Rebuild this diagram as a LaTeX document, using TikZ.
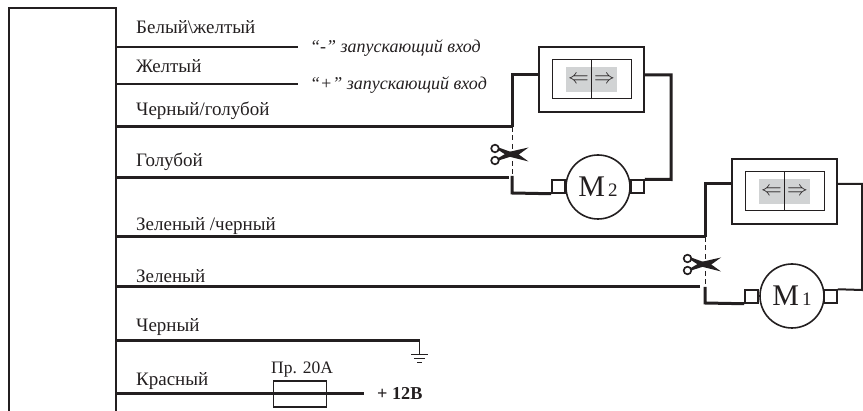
\documentclass[tikz,border=0pt]{standalone}
\usepackage{fontspec}
\setmainfont{Liberation Serif}
\tikzset{
  x=1pt,y=-1pt,
  wire/.style={line width=3pt,color=ink,line join=miter},
  thin wire/.style={line width=2.6pt,color=ink},
  cut/.style={line width=1pt,color=ink,dash pattern=on 5pt off 3.5pt},
  boxline/.style={draw=ink,line width=1.6pt,fill=white,inner sep=0pt,minimum width=#1},
  lab/.style={anchor=base west,inner sep=0pt,font=\fontsize{19}{20}\selectfont,text=ink},
  note/.style={anchor=base west,inner sep=0pt,font=\fontsize{18}{20}\selectfont\itshape,text=ink},
  motor/.style={circle,draw=ink,line width=1.6pt,fill=white,minimum size=64pt,inner sep=0pt,font=\fontsize{30}{30}\selectfont,text=ink},
  pad/.style={rectangle,draw=ink,line width=1.5pt,fill=white,minimum width=13pt,minimum height=13pt,inner sep=0pt},
  arrowglyph/.style={inner sep=0pt,font=\fontsize{20}{20}\selectfont,text=ink},
}
\definecolor{ink}{HTML}{231F20}
\definecolor{panel}{HTML}{D1D3D4}
\newcommand{\switchbox}[3]{% name, centre x, centre y
  \node[rectangle,boxline=105pt,minimum height=65pt] (#1) at (#2,#3) {};
  \node[rectangle,draw=ink,line width=1pt,minimum width=79pt,minimum height=39pt,inner sep=0pt] (#1i) at (#2,#3) {};
  \node[rectangle,fill=panel,minimum width=51pt,minimum height=25pt,inner sep=0pt] (#1g) at (#2,#3) {};
  \draw[ink,line width=1pt] (#1i.north) -- (#1i.south);
  \node[arrowglyph] (#1l) at ($(#1g.center)+(-13,0)$) {$\Leftarrow$};
  \node[arrowglyph] (#1r) at ($(#1g.center)+(13,0)$) {$\Rightarrow$};
}
\newcommand{\scissorsat}[3]{% name, x, y
  \begin{scope}[shift={(#2,#3)}]
    \coordinate (#1) at (0,0);
    \draw[ink,line width=1.7pt] (-13.5,-5.5) circle[radius=3.8pt];
    \draw[ink,line width=1.7pt] (-13.5,6.5) circle[radius=3.8pt];
    \fill[ink] (-11,4.5) -- (0,-2) -- (20,-6.5) -- (8,2.2) -- (2,2.7) -- (-10,6.5) -- cycle;
    \fill[ink] (-11,-4.5) -- (0,2.5) -- (20,7.5) -- (8,-1.2) -- (2,-2.2) -- (-10,-6.5) -- cycle;
  \end{scope}
}
\usetikzlibrary{calc}
\begin{document}
\begin{tikzpicture}
\useasboundingbox (0,0) rectangle (863,411);
% control unit
\coordinate (ubl) at (9,411);
\coordinate (ubr) at (116,411);
\coordinate (utl) at (9,8);
\coordinate (utr) at (116,8);
\draw[ink,line width=2pt] (ubl) -- (utl) -- (utr) -- (ubr);
% start inputs
\coordinate (w1) at (116,47); \coordinate (w1e) at (298,47);
\coordinate (w2) at (116,84); \coordinate (w2e) at (298,84);
\draw[thin wire] (w1) -- (w1e);
\draw[thin wire] (w2) -- (w2e);
\node[lab] (l1) at (136,33.5) {Белый\textbackslash желтый};
\node[lab] (l2) at (136,72.5) {Желтый};
\node[note] (n1) at (310,52.5) {“-” запускающий вход};
\node[note] (n2) at (310,90) {“+” запускающий вход};
\node[lab] (l3) at (136,115.5) {Черный/голубой};
\node[lab] (l4) at (136,166.5) {Голубой};
\node[lab] (l5) at (136,231) {Зеленый /черный};
\node[lab] (l6) at (136,282.5) {Зеленый};
\node[lab] (l7) at (136,332) {Черный};
\node[lab] (l8) at (136,385.5) {Красный};
% M2 group
\switchbox{sa}{591.5}{79.5}
\node[pad] (pal) at (558.5,186.5) {};
\node[pad] (par) at (637.5,186.5) {};
\node[motor] (ma) at (598,187) {M\fontsize{19}{20}\selectfont\,2};
\coordinate (a1) at (116,127); \coordinate (a2) at (512,127); \coordinate (a3) at (512,75);
\coordinate (a4) at (116,178); \coordinate (a5) at (509,178);
\coordinate (a6) at (512,176); \coordinate (a7) at (512,193);
\coordinate (a8) at (671,75); \coordinate (a9) at (671,179.5);
\draw[wire] (a1) -- (a2);
\draw[wire] (a2) -- (a3) -- (sa.west |- a3);
\draw[wire] (sa.east |- a3) -- (a8) -- (a9) -- (par.north east);
\draw[wire] (a4) -- (a5);
\draw[wire] (a6) -- (a7) -- (pal.south west);
\draw[cut] (a2) -- (a6);
\scissorsat{sca}{508.5}{154}
% M1 group
\switchbox{sb}{784.5}{191.5}
\node[pad] (pbl) at (751.5,296.5) {};
\node[pad] (pbr) at (830.5,296.5) {};
\node[motor] (mb) at (792,296) {M\fontsize{19}{20}\selectfont\,1};
\coordinate (b1) at (116,237); \coordinate (b2) at (705,237); \coordinate (b3) at (705,184);
\coordinate (b4) at (116,287); \coordinate (b5) at (700,287);
\coordinate (b6) at (705,287); \coordinate (b7) at (705,303);
\coordinate (b8) at (862,184); \coordinate (b9) at (862,290);
\draw[wire] (b1) -- (b2);
\draw[wire] (b2) -- (b3) -- (sb.west |- b3);
\draw[wire,line width=2pt] (sb.east |- b3) -- (b8) -- (b9) -- (pbr.north east);
\draw[wire] (b4) -- (b5);
\draw[wire] (b6) -- (b7) -- (pbl.south west);
\draw[cut] (b2) -- (b6);
\scissorsat{scb}{701}{264}
% ground
\coordinate (g1) at (116,341); \coordinate (g2) at (419.5,341); \coordinate (g3) at (419.5,355);
\draw[wire] (g1) -- (g2);
\draw[ink,line width=1pt] (g2) -- (g3);
\draw[ink,line width=1pt] ($(g3)+(-8.5,0)$) -- ($(g3)+(8.5,0)$);
\draw[ink,line width=1pt] ($(g3)+(-5.5,4)$) -- ($(g3)+(5.5,4)$);
\draw[ink,line width=1pt] ($(g3)+(-2.5,8)$) -- ($(g3)+(2.5,8)$);
% power
\coordinate (p1) at (116,393.5); \coordinate (p2) at (364,393.5);
\node[rectangle,draw=ink,line width=1.5pt,minimum width=53pt,minimum height=26pt,inner sep=0pt] (fuse) at (300,394) {};
\draw[wire] (p1) -- (p2);
\node[lab,font=\fontsize{17.5}{20}\selectfont] (fl) at (271,374) {Пр. 20А};
\node[lab,font=\fontsize{18.2}{20}\selectfont\bfseries] (pw) at (377,400) {+ 12В};
\end{tikzpicture}
\end{document}
